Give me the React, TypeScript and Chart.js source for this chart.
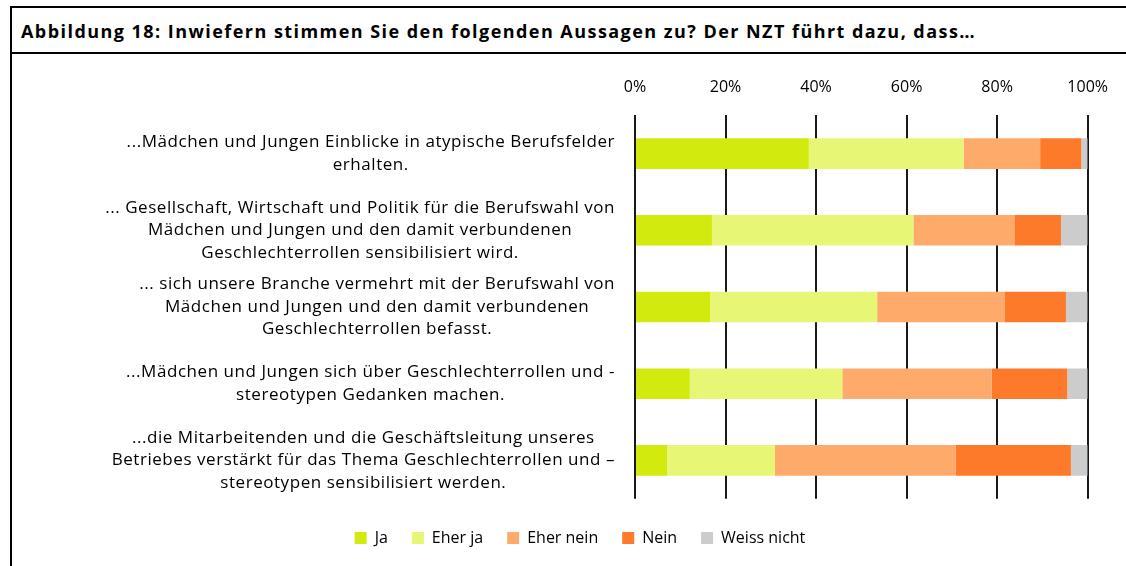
import React, { useEffect, useRef } from "react";
import { Chart, registerables } from "chart.js";

Chart.register(...registerables);

const title =
  "Abbildung 18: Inwiefern stimmen Sie den folgenden Aussagen zu? Der NZT führt dazu, dass…";

const categories: string[][] = [
  ["...Mädchen und Jungen Einblicke in atypische Berufsfelder", "erhalten."],
  [
    "... Gesellschaft, Wirtschaft und Politik für die Berufswahl von",
    "Mädchen und Jungen und den damit verbundenen",
    "Geschlechterrollen sensibilisiert wird.",
  ],
  [
    "... sich unsere Branche vermehrt mit der Berufswahl von",
    "Mädchen und Jungen und den damit verbundenen",
    "Geschlechterrollen befasst.",
  ],
  ["...Mädchen und Jungen sich über Geschlechterrollen und -", "stereotypen Gedanken machen."],
  [
    "...die Mitarbeitenden und die Geschäftsleitung unseres",
    "Betriebes verstärkt für das Thema Geschlechterrollen und –",
    "stereotypen sensibilisiert werden.",
  ],
];

const seriesNames = ["Ja", "Eher ja", "Eher nein", "Nein", "Weiss nicht"];
const ja = [38.4, 17.0, 16.6, 12.1, 7.1];
const eherJa = [34.2, 44.5, 36.9, 33.7, 23.8];
const eherNein = [16.9, 22.3, 28.1, 33.0, 39.9];
const nein = [9.1, 10.3, 13.6, 16.7, 25.5];
const weissNicht = [1.4, 5.9, 4.8, 4.5, 3.7];
const seriesColors = ["#D3EA0F", "#E7F675", "#FDAA6A", "#FC7A2A", "#CCCCCC"];

const FONT = "'Open Sans'";

const labelPlugin = {
  id: "catLabels",
  afterDraw(chart: any) {
    const ctx = chart.ctx as any;
    const yScale = chart.scales.y;
    ctx.save();
    ctx.font = `17px ${FONT}`;
    ctx.letterSpacing = "0.55px";
    ctx.fillStyle = "#000";
    ctx.textAlign = "center";
    ctx.textBaseline = "middle";
    const right = chart.chartArea.left - 20;
    const lh = 22.5;
    (chart.data.labels as string[][]).forEach((lines, i) => {
      const cy = yScale.getPixelForValue(i);
      const maxW = Math.max(...lines.map((l) => ctx.measureText(l).width));
      const cx = right - maxW / 2;
      lines.forEach((l, j) => {
        ctx.fillText(l, cx, cy + (j - (lines.length - 1) / 2) * lh);
      });
    });
    ctx.restore();
  },
};

export default function App() {
  const ref = useRef<HTMLCanvasElement | null>(null);

  useEffect(() => {
    if (!ref.current) return;
    const values = [ja, eherJa, eherNein, nein, weissNicht];
    const chart = new Chart(ref.current, {
      type: "bar",
      data: {
        labels: categories as any,
        datasets: seriesNames.map((name, i) => ({
          label: name,
          data: values[i],
          backgroundColor: seriesColors[i],
          borderWidth: 0,
          barPercentage: 0.4,
          categoryPercentage: 1,
        })),
      },
      options: {
        indexAxis: "y",
        responsive: false,
        animation: false,
        layout: { padding: { left: 71, right: 37, top: 60, bottom: 10 } },
        scales: {
          x: {
            position: "top",
            stacked: true,
            min: 0,
            max: 100,
            grid: { color: "#1a1a1a", lineWidth: 2, drawTicks: false },
            border: { display: false },
            ticks: {
              stepSize: 20,
              padding: 18,
              color: "#000",
              font: { family: FONT, size: 16 },
              callback: (v: any) => `${v}%`,
            },
          },
          y: {
            stacked: true,
            grid: { display: false },
            border: { display: false },
            ticks: { display: false },
            afterFit: (s: any) => {
              s.width = 564;
            },
          },
        },
        plugins: {
          legend: {
            position: "bottom",
            title: { display: true, text: "", font: { size: 1 }, padding: { top: 6, bottom: 0 } },
            labels: {
              boxWidth: 12,
              boxHeight: 12,
              padding: 24,
              color: "#000",
              font: { family: FONT, size: 16 },
            },
          },
          tooltip: { enabled: false },
        },
      },
      plugins: [labelPlugin],
    });
    return () => chart.destroy();
  }, []);

  return (
    <div>
      <div
        style={{
          position: "absolute",
          left: 10,
          top: 6,
          width: 1200,
          height: 620,
          borderLeft: "2px solid #000",
          borderTop: "2px solid #000",
          boxSizing: "border-box",
        }}
      />
      <div
        style={{
          position: "absolute",
          left: 10,
          top: 52,
          width: 1200,
          height: 2,
          background: "#000",
        }}
      />
      <div
        style={{
          position: "absolute",
          left: 21,
          top: 9,
          height: 44,
          lineHeight: "44px",
          fontFamily: FONT,
          fontWeight: 700,
          fontSize: 18,
          letterSpacing: "1.45px",
          color: "#000",
          whiteSpace: "nowrap",
        }}
      >
        {title}
      </div>
      <canvas
        ref={ref}
        width={1126}
        height={566}
        style={{ position: "absolute", left: 0, top: 0, width: 1126, height: 566 }}
      />
    </div>
  );
}
